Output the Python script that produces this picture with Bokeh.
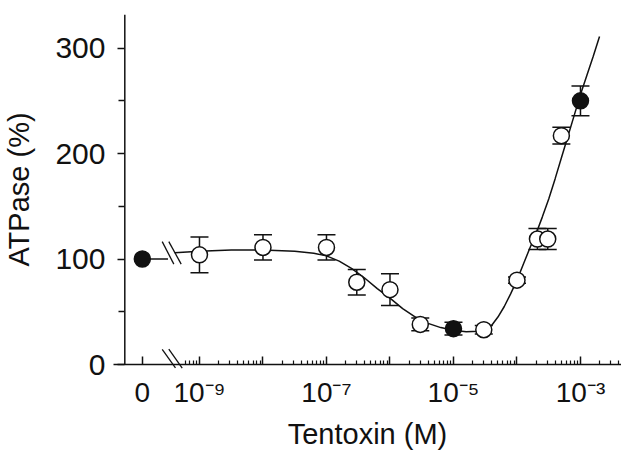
import numpy as np
from bokeh.plotting import figure
from bokeh.models import Range1d, FixedTicker, Span, Whisker, ColumnDataSource, TeeHead
from bokeh.embed import file_html
from bokeh.resources import INLINE

# ---- data ----
conc_open = [1e-9, 1e-8, 1e-7, 3e-7, 1e-6, 3e-6, 3e-5, 1e-4, 2.1e-4, 3.05e-4, 5e-4]
atpase_open = [104, 111, 111, 78, 71, 38, 33, 80, 119, 119, 217]
err_open = [17, 12, 12, 12, 15, 6, 4, 3, 10, 10, 8]

conc_filled = [1e-5, 1e-3]
atpase_filled = [34, 250]
err_filled = [6, 14]

control_atpase = 100  # tentoxin = 0

curve_log_conc = [-9.39, -9.0, -8.5, -8.0, -7.5, -7.2, -7.0, -6.8, -6.6, -6.4, -6.2, -6.0,
                  -5.8, -5.6, -5.4, -5.2, -5.0, -4.8, -4.6, -4.5, -4.4, -4.3, -4.2, -4.1,
                  -4.0, -3.9, -3.8, -3.7, -3.6, -3.5, -3.4, -3.3, -3.2, -3.1, -3.0, -2.9,
                  -2.8, -2.7]
curve_atpase = [106, 107.5, 108.5, 108.5, 107.5, 105.5, 103, 98, 91, 82, 72, 63,
                53, 45, 39, 35, 32.5, 31, 31.5, 33, 37, 45, 55, 67,
                80, 95, 110, 124, 140, 157, 176, 196, 216, 236, 256, 274,
                292, 311]

x_tick_labels = {-9: "10\u207b\u2079", -7: "10\u207b\u2077", -5: "10\u207b\u2075", -3: "10\u207b\u00b3"}
y_ticks = [0, 100, 200, 300]
y_minor_ticks = [50, 150, 250]

# ---- layout constants ----
ZERO_POS = -9.9          # axis position that stands for 0 M
YAXIS_POS = -10.176      # where the y axis line is drawn
FONT = "Liberation Sans"
INK = "#111111"

p = figure(width=621, height=452, output_backend="svg", toolbar_location=None,
           x_range=Range1d(-10.354, -2.354), y_range=Range1d(0, 331.9),
           min_border_left=113, min_border_right=0, min_border_top=14, min_border_bottom=84)
p.grid.visible = False
p.outline_line_color = None
p.background_fill_color = "white"
p.border_fill_color = "white"

# x axis
major_x = [ZERO_POS] + list(range(-9, -2))
minor_x = []
for n in range(-10, -2):
    for k in range(2, 10):
        v = n + np.log10(k)
        if -9.25 < v < -2.36:
            minor_x.append(float(v))
p.xaxis.ticker = FixedTicker(ticks=major_x, minor_ticks=minor_x)
overrides = {ZERO_POS: "0"}
for t in range(-9, -2):
    overrides[t] = x_tick_labels.get(t, "")
p.xaxis.major_label_overrides = overrides
p.xaxis.axis_label = "Tentoxin (M)"
p.xaxis.axis_line_width = 1.5
p.xaxis.axis_line_color = INK
p.xaxis.major_tick_in = 8
p.xaxis.major_tick_out = 0
p.xaxis.minor_tick_in = 4
p.xaxis.minor_tick_out = 0
p.xaxis.major_tick_line_width = 1.5
p.xaxis.minor_tick_line_width = 1.2
p.xaxis.major_tick_line_color = INK
p.xaxis.minor_tick_line_color = INK
p.xaxis.major_label_text_font = FONT
p.xaxis.major_label_text_font_size = "28px"
p.xaxis.major_label_text_color = INK
p.xaxis.major_label_standoff = 12
p.xaxis.axis_label_text_font = FONT
p.xaxis.axis_label_text_font_size = "29px"
p.xaxis.axis_label_text_font_style = "normal"
p.xaxis.axis_label_text_color = INK
p.xaxis.axis_label_standoff = 7

# y axis
p.yaxis.ticker = FixedTicker(ticks=y_ticks, minor_ticks=y_minor_ticks)
p.yaxis.axis_label = "ATPase (%)"
p.yaxis.axis_line_color = None
p.yaxis.major_tick_in = 11
p.yaxis.major_tick_out = -4
p.yaxis.minor_tick_in = 11
p.yaxis.minor_tick_out = -5
p.yaxis.major_tick_line_width = 1.5
p.yaxis.minor_tick_line_width = 1.5
p.yaxis.major_tick_line_color = INK
p.yaxis.minor_tick_line_color = INK
p.yaxis.major_label_text_font = FONT
p.yaxis.major_label_text_font_size = "30px"
p.yaxis.major_label_text_color = INK
p.yaxis.major_label_standoff = 12
p.yaxis.axis_label_text_font = FONT
p.yaxis.axis_label_text_font_size = "29px"
p.yaxis.axis_label_text_font_style = "normal"
p.yaxis.axis_label_text_color = INK
p.yaxis.axis_label_standoff = 17

p.add_layout(Span(location=YAXIS_POS, dimension="height", line_color=INK, line_width=1.5))

# axis break marks and curve break
p.segment(x0=[-9.587, -9.483], y0=[14.3, 14.5], x1=[-9.378, -9.272], y1=[-3.2, -3.5],
          line_color=INK, line_width=1.3, level="overlay")
p.segment(x0=[-9.587, -9.483], y0=[116.5, 116.5], x1=[-9.404, -9.288], y1=[95.2, 95.2],
          line_color=INK, line_width=1.3)

# curve
p.line([ZERO_POS, -9.496], [control_atpase, control_atpase], line_color=INK, line_width=1.5)
p.line(curve_log_conc, curve_atpase, line_color=INK, line_width=1.5)

# error bars
lo = np.log10(conc_open)
lf = np.log10(conc_filled)
src_o = ColumnDataSource(dict(x=lo, y=atpase_open,
                              lower=np.array(atpase_open) - np.array(err_open),
                              upper=np.array(atpase_open) + np.array(err_open)))
src_f = ColumnDataSource(dict(x=lf, y=atpase_filled,
                              lower=np.array(atpase_filled) - np.array(err_filled),
                              upper=np.array(atpase_filled) + np.array(err_filled)))
for src in (src_o, src_f):
    p.add_layout(Whisker(source=src, base="x", lower="lower", upper="upper",
                         line_color=INK, line_width=1.5,
                         upper_head=TeeHead(size=18, line_color=INK, line_width=1.5),
                         lower_head=TeeHead(size=18, line_color=INK, line_width=1.5)))

p.scatter(x="x", y="y", source=src_o, marker="circle", size=16,
          fill_color="white", line_color=INK, line_width=1.5)
p.scatter(x="x", y="y", source=src_f, marker="circle", size=16,
          fill_color=INK, line_color=INK, line_width=1.5)
p.scatter(x=[ZERO_POS], y=[control_atpase], marker="circle", size=16,
          fill_color=INK, line_color=INK, line_width=1.5)

open("out.html", "w").write(file_html(p, INLINE))
